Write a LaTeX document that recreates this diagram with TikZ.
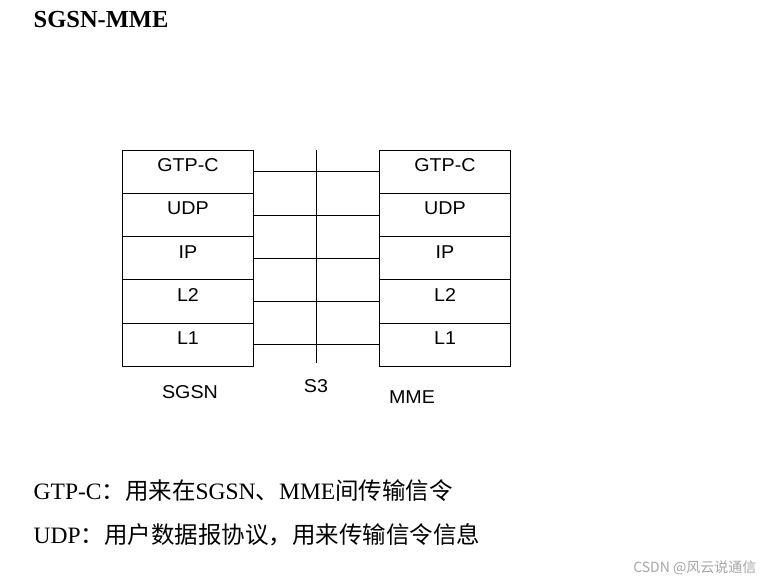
\documentclass[tikz,border=0pt]{standalone}
\usepackage{fontspec}
\setmainfont{Liberation Serif}
\newfontfamily\labelfont[FakeStretch=1.06]{Liberation Sans}
\newfontfamily\cjk{Noto Sans CJK SC}
\usetikzlibrary{positioning}

\begin{document}
\begin{tikzpicture}[x=1pt,y=-1pt]
    \tikzset{
      node distance=0pt,
      line width=1.4pt,
      layer/.style={draw, minimum width=131pt, minimum height=43.2pt,
        inner sep=0pt, outer sep=0pt, text height=9.5pt, text depth=9.5pt,
        font={\labelfont\fontsize{18.6}{21}\selectfont}},
      caption/.style={anchor=base, inner sep=0pt,
        font={\labelfont\fontsize{18.6}{21}\selectfont}},
      note/.style={anchor=base west, inner sep=0pt,
        font={\fontsize{23.5}{28}\selectfont}},
    }
    \fill[white] (0,0) rectangle (764,582);
    \useasboundingbox (0,0) rectangle (764,582);

    \node[anchor=base west, inner sep=0pt, font={\bfseries\fontsize{24.5}{28}\selectfont}] (title) at (33,27) {SGSN-MME};

    % SGSN stack
    \node[layer] (s1) at (188,171.6) {GTP-C};
    \node[layer, below=of s1] (s2) {UDP};
    \node[layer, below=of s2] (s3) {IP};
    \node[layer, below=of s3] (s4) {L2};
    \node[layer, below=of s4] (s5) {L1};

    % MME stack
    \node[layer] (m1) at (445,171.6) {GTP-C};
    \node[layer, below=of m1] (m2) {UDP};
    \node[layer, below=of m2] (m3) {IP};
    \node[layer, below=of m3] (m4) {L2};
    \node[layer, below=of m4] (m5) {L1};

    \coordinate (reftop) at (316,150);
    \coordinate (refbot) at (316,363);
    \draw (reftop) -- (refbot);

    \draw
      (s1.east) edge (m1.west)
      (s2.east) edge (m2.west)
      (s3.east) edge (m3.west)
      (s4.east) edge (m4.west)
      (s5.east) edge (m5.west);

    \node[caption] (sgsn) at (190,398) {SGSN};
    \node[caption] (refpoint) at (316,392) {S3};
    \node[caption] (mme) at (412,403) {MME};

    \node[note] (gtpnote) at (33,499) {GTP-C{\cjk ：用来在}SGSN{\cjk 、}MME{\cjk 间传输信令}};
    \node[note] (udpnote) at (33,543) {UDP{\cjk ：用户数据报协议，用来传输信令信息}};

    \node[anchor=base east, inner sep=0pt, text=black!35, font={\cjk\fontsize{14}{16}\selectfont}] (mark) at (757,572) {CSDN @风云说通信};
  \end{tikzpicture}
\end{document}
